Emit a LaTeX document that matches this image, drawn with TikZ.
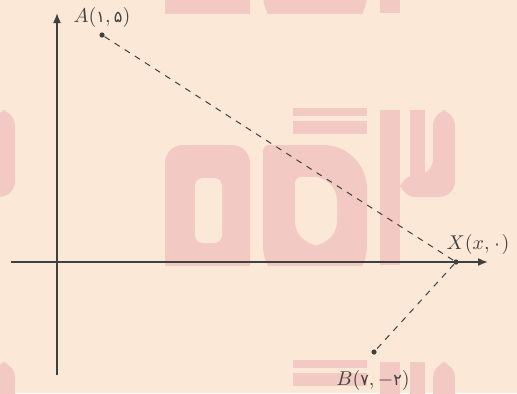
\documentclass[tikz,border=0pt]{standalone}
\usepackage{fontspec}
\newfontfamily\fadig{DejaVu Sans}[Scale=0.8]
\usetikzlibrary{arrows.meta}
\definecolor{bg}{HTML}{FCE8D6}
\definecolor{wm}{HTML}{F3CAC3}
\definecolor{ax}{HTML}{404040}
\newcommand{\fd}[1]{\hbox{\fadig #1}}
\newcommand{\wmlogo}{%
  \begin{scope}
  \clip (100,100) rectangle (480,265);
  \fill[wm,even odd rule,rounded corners=9pt] (165,290) -- (165,145) -- (250,145) -- (250,290) -- cycle;
  \fill[bg,rounded corners=4pt] (195,243) -- (195,178) -- (222,178) -- (222,243) -- cycle;
  \fill[wm,rounded corners=3pt] (263,290) -- (263,145) -- (315,145) [rounded corners=22pt] -- (367,145) -- (367,290) -- cycle;
  \fill[bg,rounded corners=3pt] (295,245) -- (295,177) -- (315,177) [rounded corners=12pt] -- (337,177) -- (337,245) -- cycle;
  \fill[wm] (293,108) rectangle (367,116);
  \fill[wm] (293,121) rectangle (367,134);
  \fill[wm] (380,110) rectangle (400,265);
  \fill[wm] (410,110) rectangle (425,185);
  \fill[wm,rounded corners=8pt] (400,175) -- (433,175) -- (433,110) -- (455,110) -- (455,197) -- (400,197) -- cycle;
  \end{scope}
}
\begin{document}
\begin{tikzpicture}[x=0.5pt,y=-0.5pt,
  axis/.style={draw=ax,line width=0.8pt,-{Latex[length=5pt,width=4pt]}},
  guide/.style={draw=ax,dashed,line width=0.5pt},
  pt/.style={circle,fill=ax,inner sep=0pt,minimum size=2.6pt},
  lbl/.style={text=ax,inner sep=1pt}]
\fill[bg] (0,0) rectangle (517,393);
\useasboundingbox (0,0) rectangle (517,393);
\begin{scope}
  \clip (0,0) rectangle (517,393);
  \wmlogo
  \begin{scope}[shift={(-440,0)}]\wmlogo\end{scope}
  \begin{scope}[shift={(0,-252)}]\wmlogo\end{scope}
  \begin{scope}[shift={(0,252)}]\wmlogo\end{scope}
  \begin{scope}[shift={(-440,252)}]\wmlogo\end{scope}
\end{scope}
\coordinate (ys) at (57,375);
\coordinate (ye) at (57,13);
\coordinate (xs) at (11,262);
\coordinate (xe) at (488,262);
\draw[axis] (ys) -- (ye);
\draw[axis] (xs) -- (xe);
\node[pt] (A) at (102,35) {};
\node[pt] (X) at (456,262) {};
\node[pt] (B) at (374,352) {};
\draw[guide] (A) -- (X) -- (B);
\node[lbl] (Al) at (102,17) {$A(\fd{۱},\fd{۵})$};
\node[lbl] (Xl) at (478,244) {$X(x,\fd{۰})$};
\node[lbl] (Bl) at (373,380) {$B(\fd{۷},-\fd{۲})$};
\end{tikzpicture}
\end{document}
